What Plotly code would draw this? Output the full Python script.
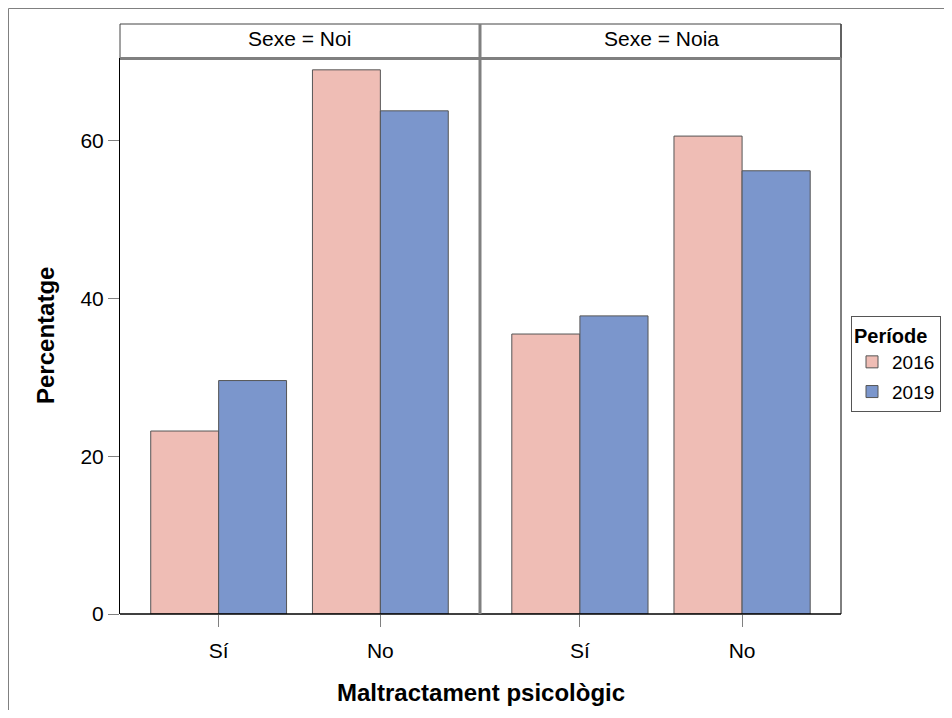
import plotly.graph_objects as go

categories = ["Sí", "No"]
panels = ["Noi", "Noia"]
periods = ["2016", "2019"]
values = {
    ("Noi", "2016"): [23.2, 69.0],
    ("Noi", "2019"): [29.6, 63.8],
    ("Noia", "2016"): [35.5, 60.6],
    ("Noia", "2019"): [37.8, 56.2],
}
colors = {"2016": "#EFBDB5", "2019": "#7B96CC"}
yticks = [0, 20, 40, 60]

# the page body adds an 8px margin on every side; keep the figure inside the window
OFF = 8
W, H = 952 - 2 * OFF, 718 - 2 * OFF
# plot area in page pixels
L, R, T, B = 120, 841, 58, 614
pw, ph = R - L, B - T

def px(x):
    return (x - L) / pw

def py(y):
    return (B - y) / ph

FONT = "Liberation Sans, Arial, sans-serif"
FS = 21

fig = go.Figure()
for i, p in enumerate(panels):
    xa = "x" if i == 0 else "x2"
    for per in periods:
        fig.add_trace(go.Bar(
            x=categories, y=values[(p, per)], name=per,
            xaxis=xa, yaxis="y",
            marker=dict(color=colors[per], line=dict(color="#555555", width=1)),
            legendgroup=per, showlegend=(i == 0),
        ))

dom1 = [0, px(479)]
dom2 = [px(481), 1]
axis_common = dict(
    type="category", range=[-0.61, 1.61], showgrid=False, zeroline=False,
    ticks="outside", ticklen=12, tickcolor="#808080", tickwidth=1,
    tickfont=dict(family=FONT, size=FS, color="black"), ticklabelstandoff=6,
    showline=False, fixedrange=True,
)
fig.update_layout(
    width=W, height=H,
    margin=dict(l=L - OFF, r=W - (R - OFF), t=T - OFF, b=H - (B - OFF), pad=0, autoexpand=False),
    paper_bgcolor="white", plot_bgcolor="white",
    barmode="group", bargap=0.16, bargroupgap=0,
    font=dict(family=FONT, size=FS, color="black"),
    xaxis=dict(domain=dom1, anchor="y", **axis_common),
    xaxis2=dict(domain=dom2, anchor="y", **axis_common),
    yaxis=dict(
        range=[0, 70.5], tickvals=yticks, ticktext=[str(v) for v in yticks],
        showgrid=False, zeroline=False, showline=True, linecolor="black", linewidth=1,
        ticks="outside", ticklen=11, tickcolor="#808080",
        tickfont=dict(family=FONT, size=FS, color="black"),
        fixedrange=True,
    ),
    legend=dict(
        x=px(851), y=py(316), xanchor="left", yanchor="top",
        bordercolor="#555555", borderwidth=1, bgcolor="white",
        title=dict(text="<b>Període</b>", font=dict(family=FONT, size=20)),
        font=dict(family=FONT, size=19), tracegroupgap=2,
    ),
)

shapes = []
# bottom axis line
shapes.append(dict(type="line", xref="paper", yref="paper", x0=0, x1=1, y0=0, y1=0,
                   line=dict(color="black", width=1.5)))
# right border
shapes.append(dict(type="line", xref="paper", yref="paper", x0=1, x1=1, y0=0, y1=py(24),
                   line=dict(color="black", width=1)))
# strip box outline
shapes.append(dict(type="rect", xref="paper", yref="paper", x0=0, x1=1, y0=py(58), y1=py(24),
                   line=dict(color="#444444", width=1), fillcolor="rgba(0,0,0,0)"))
# strip bottom thick gray
shapes.append(dict(type="line", xref="paper", yref="paper", x0=0, x1=1, y0=py(58.5), y1=py(58.5),
                   line=dict(color="#808080", width=3)))
# panel divider thick gray
shapes.append(dict(type="line", xref="paper", yref="paper", x0=px(480), x1=px(480), y0=0, y1=py(24),
                   line=dict(color="#808080", width=3)))
# outer figure frame (cropped)
shapes.append(dict(type="line", xref="paper", yref="paper", x0=px(8.5), x1=px(952), y0=py(8.5), y1=py(8.5),
                   line=dict(color="#808080", width=1)))
shapes.append(dict(type="line", xref="paper", yref="paper", x0=px(8.5), x1=px(8.5), y0=py(8.5), y1=py(718),
                   line=dict(color="#808080", width=1)))
fig.update_layout(shapes=shapes)

annotations = []
for i, p in enumerate(panels):
    cx = (dom1[0] + dom1[1]) / 2 if i == 0 else (dom2[0] + dom2[1]) / 2
    annotations.append(dict(text=f"Sexe = {p}", xref="paper", yref="paper", x=cx, y=py(39),
                            showarrow=False, xanchor="center", yanchor="middle",
                            font=dict(family=FONT, size=FS, color="black")))
annotations.append(dict(text="<b>Maltractament psicològic</b>", xref="paper", yref="paper",
                        x=px(480.5), y=py(692), showarrow=False, xanchor="center", yanchor="middle",
                        font=dict(family=FONT, size=24, color="black")))
annotations.append(dict(text="<b>Percentatge</b>", xref="paper", yref="paper", textangle=-90,
                        x=px(45), y=py(336), showarrow=False, xanchor="center", yanchor="middle",
                        font=dict(family=FONT, size=24, color="black")))
fig.update_layout(annotations=annotations)

fig.write_html("out.html")
